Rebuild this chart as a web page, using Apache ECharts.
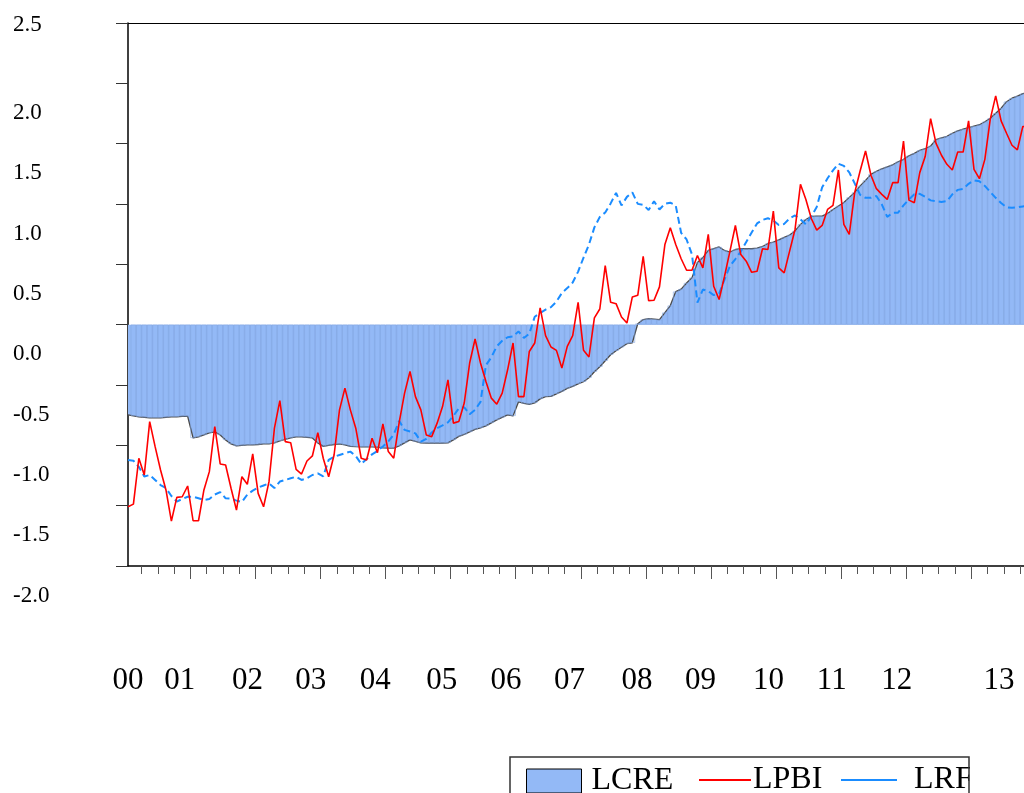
<!DOCTYPE html>
<html>
<head>
<meta charset="utf-8">
<title>LCRE, LPBI, LRF</title>
<script src="https://cdn.jsdelivr.net/npm/echarts@6/dist/echarts.min.js"></script>
<style>
  html, body { margin: 0; padding: 0; background: #ffffff; }
  #chart { width: 1024px; height: 793px; }
</style>
</head>
<body>
<div id="chart"></div>
<script>
// Monthly observations starting January 2000
const startYear = 2000;

const lcre = [
  -0.748,-0.756,-0.764,-0.768,-0.772,-0.772,-0.772,-0.768,-0.764,-0.764,
  -0.760,-0.760,-0.939,-0.930,-0.914,-0.897,-0.889,-0.914,-0.955,-0.988,
  -1.005,-1.001,-0.997,-0.997,-0.993,-0.988,-0.988,-0.980,-0.963,-0.951,
  -0.939,-0.930,-0.930,-0.934,-0.939,-0.980,-1.009,-1.001,-0.993,-0.988,
  -0.997,-1.009,-1.011,-1.012,-1.013,-1.013,-1.015,-1.020,-1.022,-1.023,
  -1.005,-0.980,-0.955,-0.968,-0.980,-0.982,-0.982,-0.982,-0.982,-0.980,
  -0.955,-0.926,-0.910,-0.889,-0.868,-0.855,-0.839,-0.814,-0.789,-0.768,
  -0.748,-0.756,-0.640,-0.652,-0.660,-0.648,-0.615,-0.596,-0.594,-0.573,
  -0.553,-0.528,-0.511,-0.490,-0.473,-0.440,-0.390,-0.349,-0.299,-0.249,
  -0.216,-0.187,-0.158,-0.150,0.008,0.042,0.050,0.046,0.042,0.100,
  0.158,0.274,0.295,0.345,0.390,0.515,0.556,0.615,0.631,0.644,
  0.615,0.602,0.623,0.629,0.629,0.629,0.635,0.648,0.673,0.684,
  0.702,0.723,0.743,0.777,0.831,0.872,0.897,0.900,0.900,0.922,
  0.955,0.984,1.013,1.055,1.096,1.150,1.196,1.246,1.271,1.292,
  1.308,1.325,1.350,1.370,1.400,1.420,1.445,1.458,1.481,1.533,
  1.549,1.561,1.586,1.607,1.620,1.632,1.645,1.657,1.682,1.711,
  1.752,1.794,1.848,1.877,1.894,1.914,1.927
];

const lpbi = [
  -1.509,-1.487,-1.107,-1.246,-0.803,-1.011,-1.204,-1.370,-1.628,-1.431,
  -1.426,-1.337,-1.625,-1.625,-1.370,-1.218,-0.845,-1.154,-1.163,-1.356,
  -1.537,-1.260,-1.323,-1.071,-1.398,-1.509,-1.301,-0.858,-0.629,-0.969,
  -0.978,-1.199,-1.238,-1.130,-1.088,-0.895,-1.107,-1.260,-1.080,-0.706,
  -0.526,-0.706,-0.858,-1.107,-1.121,-0.941,-1.061,-0.822,-1.052,-1.107,
  -0.811,-0.567,-0.388,-0.596,-0.706,-0.914,-0.928,-0.816,-0.679,-0.457,
  -0.816,-0.803,-0.650,-0.318,-0.119,-0.318,-0.471,-0.609,-0.659,-0.567,
  -0.374,-0.152,-0.596,-0.596,-0.222,-0.152,0.139,-0.091,-0.185,-0.213,
  -0.360,-0.180,-0.091,0.185,-0.213,-0.268,0.056,0.130,0.490,0.185,
  0.174,0.064,0.014,0.230,0.243,0.567,0.199,0.202,0.313,0.664,
  0.803,0.664,0.546,0.451,0.451,0.573,0.471,0.748,0.318,0.208,
  0.401,0.609,0.822,0.581,0.526,0.434,0.443,0.629,0.623,0.941,
  0.471,0.429,0.609,0.789,1.163,1.038,0.880,0.783,0.822,0.955,
  0.988,1.282,0.831,0.748,1.094,1.273,1.439,1.238,1.127,1.080,
  1.038,1.177,1.177,1.522,1.032,1.011,1.260,1.393,1.708,1.503,
  1.404,1.329,1.282,1.431,1.431,1.689,1.287,1.210,1.370,1.703,
  1.896,1.689,1.586,1.487,1.448,1.642,1.645
];

const lrf = [
  -1.121,-1.127,-1.179,-1.258,-1.246,-1.287,-1.329,-1.354,-1.420,-1.466,
  -1.445,-1.426,-1.426,-1.439,-1.453,-1.445,-1.408,-1.387,-1.439,-1.441,
  -1.458,-1.470,-1.408,-1.375,-1.350,-1.333,-1.316,-1.354,-1.300,-1.287,
  -1.273,-1.260,-1.287,-1.273,-1.246,-1.233,-1.258,-1.121,-1.094,-1.080,
  -1.066,-1.052,-1.088,-1.154,-1.113,-1.075,-1.047,-1.009,-0.968,-0.910,
  -0.797,-0.872,-0.886,-0.901,-0.969,-0.947,-0.893,-0.857,-0.835,-0.810,
  -0.756,-0.694,-0.685,-0.743,-0.706,-0.640,-0.336,-0.270,-0.179,-0.133,
  -0.104,-0.098,-0.056,-0.110,-0.075,0.066,0.097,0.125,0.145,0.191,
  0.262,0.303,0.349,0.440,0.556,0.664,0.806,0.893,0.930,1.005,
  1.092,0.988,1.059,1.096,1.001,0.993,0.951,1.022,0.955,1.001,
  1.011,0.988,0.760,0.706,0.581,0.183,0.291,0.278,0.245,0.257,
  0.374,0.486,0.544,0.606,0.685,0.764,0.839,0.868,0.882,0.864,
  0.826,0.835,0.880,0.905,0.872,0.831,0.897,0.976,1.138,1.213,
  1.279,1.333,1.316,1.262,1.171,1.076,1.051,1.051,1.067,0.997,
  0.893,0.926,0.928,0.988,1.038,1.080,1.084,1.059,1.030,1.024,
  1.017,1.024,1.080,1.117,1.125,1.167,1.196,1.188,1.150,1.100,
  1.051,1.009,0.972,0.968,0.972,0.980,0.988
];

// Year tick labels along the time axis and where each one sits
const yearLabels = ['00','01','02','03','04','05','06','07','08','09','10','11','12','13'];
const yearLabelAt = [2000.043, 2000.836, 2001.878, 2002.851, 2003.842, 2004.862, 2005.851,
                     2006.827, 2007.864, 2008.840, 2009.882, 2010.856, 2011.855, 2013.424];

// Mid-month position of observation i on the time axis
const t = i => startYear + (i + 0.5) / 12;
const pairs = arr => arr.map((v, i) => [t(i), v]);

const xMin = t(0);
const xMax = 2013.81;

const yearTicks = [];
const quarterTicks = [];
for (let y = 2001; y <= 2013; y++) yearTicks.push(y);
for (let y = 2000; y <= 2013; y++) quarterTicks.push(y + 0.25, y + 0.5, y + 0.75);

const serif = '"Liberation Serif", "Times New Roman", serif';
const fillBlue = '#93b9f6';

const chart = echarts.init(document.getElementById('chart'), null, { renderer: 'canvas' });

chart.setOption({
  animation: false,
  backgroundColor: '#ffffff',
  textStyle: { fontFamily: serif, color: '#000' },
  grid: { left: 128, top: 23, width: 896, height: 543, show: false },
  xAxis: [
    {
      type: 'value', min: xMin, max: xMax, position: 'bottom',
      axisLine: { show: true, onZero: false, lineStyle: { color: '#000', width: 1.5 } },
      axisTick: { show: true, customValues: yearTicks, length: 13, lineStyle: { color: '#555', width: 1 } },
      axisLabel: {
        show: true, customValues: yearLabelAt, margin: 99,
        fontSize: 31, fontFamily: serif, color: '#000',
        formatter: v => {
          let k = 0, best = Infinity;
          yearLabelAt.forEach((p, j) => { const d = Math.abs(p - v); if (d < best) { best = d; k = j; } });
          return yearLabels[k];
        }
      },
      splitLine: { show: false }
    },
    {
      type: 'value', min: xMin, max: xMax, position: 'bottom',
      axisLine: { show: false, onZero: false },
      axisTick: { show: true, customValues: quarterTicks, length: 8, lineStyle: { color: '#555', width: 1 } },
      axisLabel: { show: false },
      splitLine: { show: false }
    },
    {
      // frame line along the top of the plot
      type: 'value', min: xMin, max: xMax, position: 'top',
      axisLine: { show: true, onZero: false, lineStyle: { color: '#000', width: 1 } },
      axisTick: { show: false },
      axisLabel: { show: false },
      splitLine: { show: false }
    }
  ],
  yAxis: {
    type: 'value', min: -2, max: 2.5, interval: 0.5,
    axisLine: { show: true, onZero: false, lineStyle: { color: '#000', width: 1.5 } },
    axisTick: { show: true, inside: false, length: 12, lineStyle: { color: '#333', width: 1 } },
    splitLine: { show: false },
    axisLabel: {
      align: 'left', margin: 115, fontSize: 23, fontFamily: serif, color: '#000',
      formatter: v => (v === 2.5 ? '{t|' : '{s|') + v.toFixed(1) + '}',
      rich: {
        t: { fontSize: 23, fontFamily: serif, color: '#000', padding: [4, 0, 0, 0] },
        s: { fontSize: 23, fontFamily: serif, color: '#000', padding: [59, 0, 0, 0] }
      }
    }
  },
  legend: [
    {
      data: [{ name: 'LCRE', icon: 'rect', itemStyle: { color: fillBlue, borderColor: '#000', borderWidth: 1 } }],
      left: 526, top: 765, padding: 0,
      itemWidth: 55, itemHeight: 24, selectedMode: false,
      textStyle: { fontSize: 32, fontFamily: serif, color: '#000', padding: [0, 0, 0, 5] }
    },
    {
      data: [{ name: 'LPBI', itemStyle: { opacity: 0 } }],
      left: 698, top: 764, padding: 0,
      itemWidth: 52, itemHeight: 24, selectedMode: false,
      textStyle: { fontSize: 32, fontFamily: serif, color: '#000', padding: [0, 0, 0, -3] }
    },
    {
      data: [{ name: 'LRF', itemStyle: { opacity: 0 }, lineStyle: { type: 'solid' } }],
      left: 840, top: 764, padding: 0,
      itemWidth: 56, itemHeight: 24, selectedMode: false,
      textStyle: { fontSize: 32, fontFamily: serif, color: '#000', padding: [0, 0, 0, 12] }
    }
  ],
  graphic: [
    {
      type: 'rect', z: 100,
      shape: { x: 970, y: 756, width: 60, height: 40 },
      style: { fill: '#ffffff' }
    },
    {
      type: 'rect', z: 101,
      shape: { x: 510, y: 757, width: 459, height: 50 },
      style: { fill: 'none', stroke: '#333', lineWidth: 1.5 }
    }
  ],
  series: [
    {
      name: 'LCRE', type: 'line', xAxisIndex: 0, data: pairs(lcre),
      symbol: 'none', clip: true,
      lineStyle: { color: '#4a4a4a', width: 1.3 },
      itemStyle: { color: fillBlue },
      areaStyle: { color: fillBlue, opacity: 1, origin: 0 },
      z: 1
    },
    {
      // thin vertical rules that give the shaded area its striped look
      name: 'LCRE rules', type: 'bar', xAxisIndex: 0, data: pairs(lcre).slice(1),
      barWidth: 5.42,
      itemStyle: { color: 'transparent', borderColor: '#84a7e2', borderWidth: 0.6 },
      z: 2
    },
    {
      name: 'LRF', type: 'line', xAxisIndex: 0, data: pairs(lrf),
      symbol: 'none', clip: true,
      lineStyle: { color: '#1a8cff', width: 2, type: [7, 4] },
      itemStyle: { color: '#1a8cff' },
      z: 3
    },
    {
      name: 'LPBI', type: 'line', xAxisIndex: 0, data: pairs(lpbi),
      symbol: 'none', clip: true,
      lineStyle: { color: '#ff0000', width: 1.6 },
      itemStyle: { color: '#ff0000' },
      z: 4
    }
  ]
});
</script>
</body>
</html>
